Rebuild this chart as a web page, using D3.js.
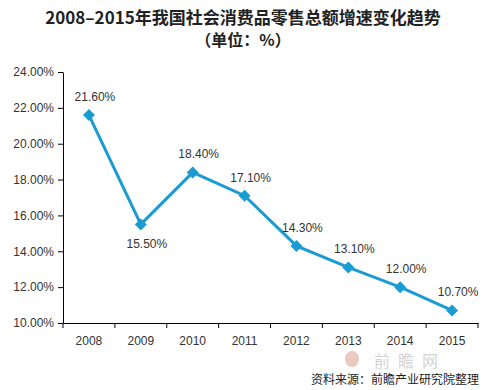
<!DOCTYPE html>
<html><head><meta charset="utf-8">
<script src="https://cdn.jsdelivr.net/npm/d3@7"></script>
<style>body{margin:0;background:#fff}svg{display:block}</style>
</head><body>
<script>
const years = ["2008","2009","2010","2011","2012","2013","2014","2015"];
const growth = [21.6, 15.5, 18.4, 17.1, 14.3, 13.1, 12.0, 10.7];
const labelPos = ["above","below","above","above","above","above","above","above"];
const yTicks = [10,12,14,16,18,20,22,24];
const title1 = "2008–2015年我国社会消费品零售总额增速变化趋势";
const title2 = "（单位：%）";
const source = "资料来源：前瞻产业研究院整理";

const W = 489, H = 390;
const m = {left: 63, right: 11, top: 72, bottom: 67};
const svg = d3.select("body").append("svg").attr("width", W).attr("height", H);
const font = "'Liberation Sans', Arial, sans-serif";
const cjk = "'Noto Sans CJK SC', sans-serif";

const x = d3.scaleBand().domain(years).range([m.left, W - m.right]);
const y = d3.scaleLinear().domain([10, 24]).range([H - m.bottom, m.top]);

svg.append("text").attr("x", 243).attr("y", 24).attr("text-anchor","middle")
  .attr("font-family", cjk).attr("font-weight","bold").attr("font-size",17).attr("fill","#222").text(title1);
svg.append("text").attr("x", 243).attr("y", 46).attr("text-anchor","middle")
  .attr("font-family", cjk).attr("font-weight","bold").attr("font-size",16).attr("fill","#222").text(title2);

// watermark
const wm = svg.append("g").attr("opacity", 0.55);
wm.append("ellipse").attr("cx", 352).attr("cy", 359).attr("rx", 7).attr("ry", 8).attr("fill","#d9a08c");
wm.append("text").attr("x", 410).attr("y", 367).attr("text-anchor","middle")
  .attr("font-family", cjk).attr("font-size",16).attr("fill","#b0b0b0")
  .attr("letter-spacing", 8).text("前瞻网");

const yAxis = svg.append("g").attr("transform", `translate(${m.left},0)`)
  .call(d3.axisLeft(y).tickValues(yTicks).tickFormat(d => d.toFixed(2) + "%").tickSize(5).tickSizeOuter(0));
const xAxis = svg.append("g").attr("transform", `translate(0,${H - m.bottom})`)
  .call(d3.axisBottom(x).tickSize(5).tickSizeOuter(0));
xAxis.selectAll(".tick line").remove();
const bounds = years.map(d => x(d)).concat([x(years[years.length-1]) + x.bandwidth()]);
xAxis.selectAll("line.bt").data(bounds).enter().append("line").attr("class","bt")
  .attr("x1", d => d).attr("x2", d => d).attr("y1", 0).attr("y2", 5).attr("stroke","#000");
[yAxis, xAxis].forEach(a => {
  a.select(".domain").attr("stroke","#000");
  a.selectAll("text").attr("font-family", font).attr("font-size", 12).attr("fill","#333");
  a.selectAll(".tick line").attr("stroke","#000");
});
xAxis.selectAll(".tick text").attr("dy", "1.15em");
yAxis.selectAll(".tick text").attr("dx", "-1px");

const cx = d => x(d) + x.bandwidth()/2;
const line = d3.line().x((d,i) => cx(years[i])).y(d => y(d));
svg.append("path").datum(growth).attr("d", line).attr("fill","none")
  .attr("stroke","#1a9bd1").attr("stroke-width",3);
svg.selectAll("path.mk").data(growth).enter().append("path").attr("class","mk")
  .attr("d", d3.symbol().type(d3.symbolSquare).size(72))
  .attr("transform", (d,i) => `translate(${cx(years[i])},${y(d)}) rotate(45)`)
  .attr("fill","#1a9bd1");
svg.selectAll("text.lb").data(growth).enter().append("text").attr("class","lb")
  .attr("x", (d,i) => cx(years[i]) + 6)
  .attr("y", (d,i) => labelPos[i] === "above" ? y(d) - 14 : y(d) + 24)
  .attr("text-anchor","middle").attr("font-family", font).attr("font-size",12).attr("fill","#333")
  .text(d => d.toFixed(2) + "%");

svg.append("text").attr("x", 479).attr("y", 384).attr("text-anchor","end")
  .attr("font-family", cjk).attr("font-size",12).attr("fill","#222").text(source);
</script>
</body></html>
